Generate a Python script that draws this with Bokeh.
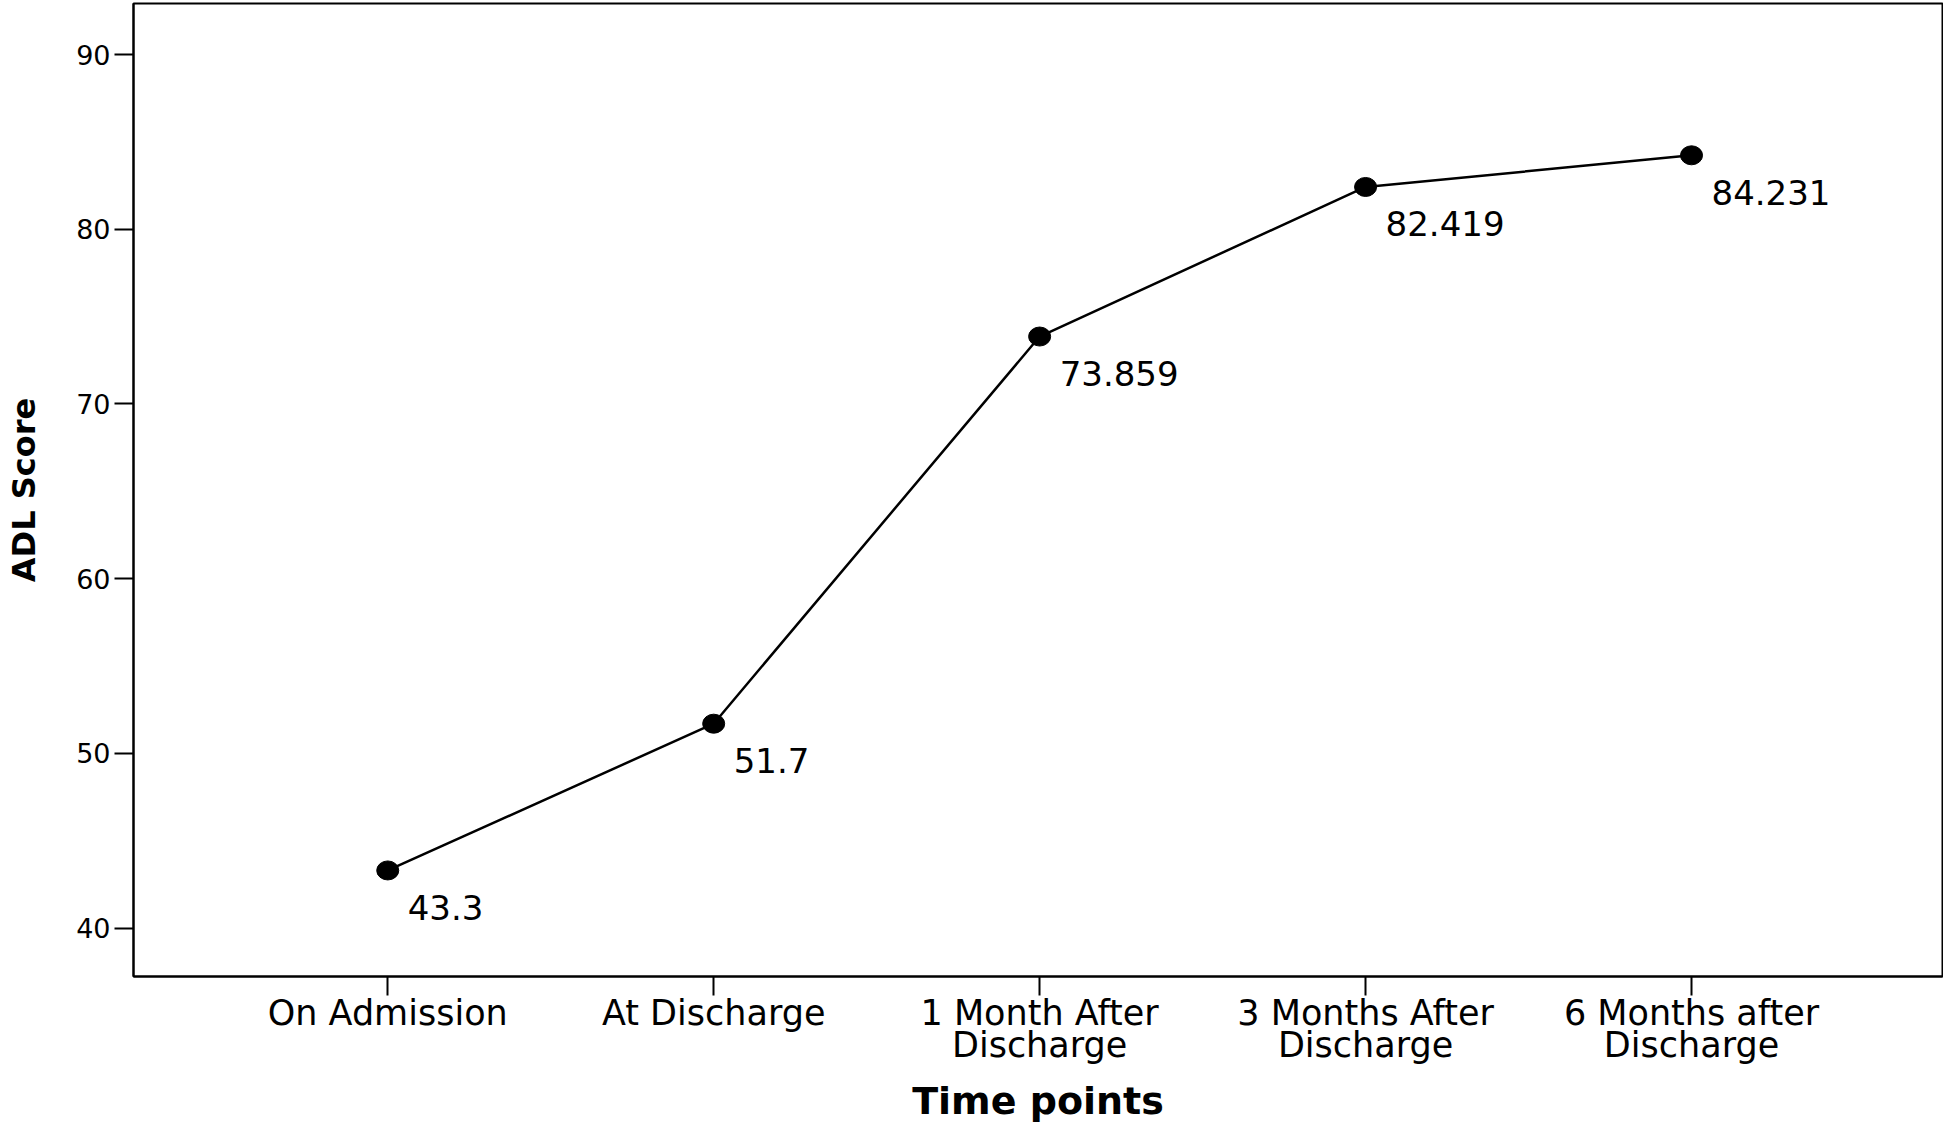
from bokeh.plotting import figure
from bokeh.models import FixedTicker, Range1d, ColumnDataSource
from bokeh.core.properties import value
from bokeh.embed import file_html
from bokeh.resources import INLINE

categories = ["On Admission", "At Discharge", "1 Month After\nDischarge",
              "3 Months After\nDischarge", "6 Months after\nDischarge"]
adl_scores = [43.3, 51.7, 73.859, 82.419, 84.231]
score_labels = ["43.3", "51.7", "73.859", "82.419", "84.231"]
y_ticks = [40, 50, 60, 70, 80, 90]

xs = list(range(len(categories)))
src = ColumnDataSource(data=dict(x=xs, y=adl_scores, lab=score_labels))

FONT = "DejaVu Sans"

p = figure(width=1943, height=1125, output_backend="svg", toolbar_location=None,
           x_range=Range1d(-0.78, 4.77), y_range=Range1d(37.23, 92.92),
           min_border_left=133, min_border_top=3, min_border_right=1,
           min_border_bottom=0)
p.background_fill_color = "white"
p.border_fill_color = "white"
p.outline_line_color = "black"
p.outline_line_width = 2
p.xgrid.visible = False
p.ygrid.visible = False

p.line("x", "y", source=src, line_color="black", line_width=2.5)
p.ellipse("x", "y", width=22, height=19, width_units="screen", height_units="screen",
          source=src, fill_color="black", line_color="black")
p.text("x", "y", text="lab", source=src, x_offset=20, y_offset=37,
       text_baseline="alphabetic", text_align="left",
       text_font=value(FONT), text_font_size="34px", text_color="black")

xa = p.xaxis[0]
xa.ticker = FixedTicker(ticks=xs)
xa.major_label_overrides = {i: c for i, c in zip(xs, categories)}
xa.axis_label = "Time points"
xa.axis_label_text_font = FONT
xa.axis_label_text_font_style = "bold"
xa.axis_label_text_font_size = "38px"
xa.axis_label_standoff = 11
xa.major_label_text_font = FONT
xa.major_label_text_font_size = "35px"
xa.major_label_text_line_height = 0.8
xa.major_label_standoff = -3

ya = p.yaxis[0]
ya.ticker = FixedTicker(ticks=y_ticks)
ya.axis_label = "ADL Score"
ya.axis_label_text_font = FONT
ya.axis_label_text_font_style = "bold"
ya.axis_label_text_font_size = "32px"
ya.axis_label_standoff = 30
ya.major_label_text_font = FONT
ya.major_label_text_font_size = "27px"
ya.major_label_standoff = 4

for ax in (xa, ya):
    ax.axis_line_color = "black"
    ax.axis_line_width = 2
    ax.major_tick_line_color = "black"
    ax.major_tick_line_width = 2
    ax.major_tick_out = 19
    ax.major_tick_in = 0
    ax.minor_tick_line_color = None
    ax.major_label_text_color = "black"
    ax.axis_label_text_color = "black"

open("out.html", "w").write(file_html(p, INLINE))
